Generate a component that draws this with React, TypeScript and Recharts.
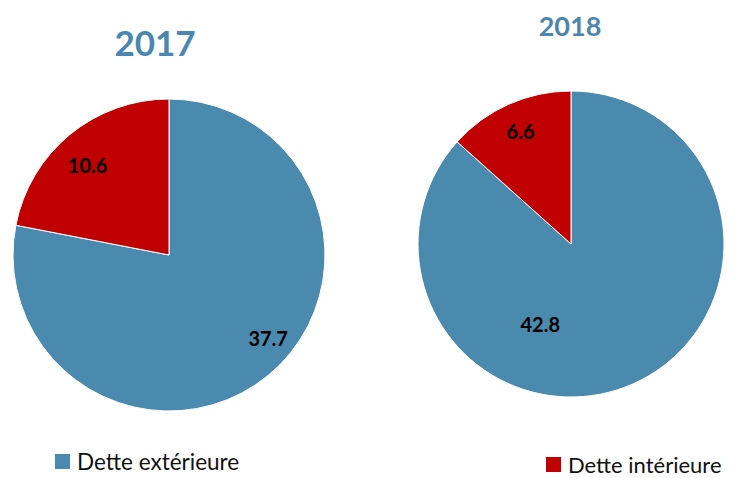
import React from "react";
import { PieChart, Pie, Cell } from "recharts";

const categories = ["Dette extérieure", "Dette intérieure"];
const years = ["2017", "2018"];
const values2017 = [37.7, 10.6];
const values2018 = [42.8, 6.6];

const COLORS = ["#4a8aae", "#c00000"];
const FONT = "Lato, 'Open Sans', sans-serif";

// label placement per pie (angle in degrees, ratio of outer radius), like Excel "best fit"
const labelSpots2017 = [
  { angle: -40, ratio: 0.83 },
  { angle: 132, ratio: 0.78 },
];
const labelSpots2018 = [
  { angle: -111, ratio: 0.56 },
  { angle: 114, ratio: 0.81 },
];

const RAD = Math.PI / 180;

const makeLabel =
  (spots: { angle: number; ratio: number }[]) =>
  (props: any) => {
    const { cx, cy, outerRadius, index, value } = props;
    const s = spots[index];
    const x = cx + outerRadius * s.ratio * Math.cos(s.angle * RAD);
    const y = cy - outerRadius * s.ratio * Math.sin(s.angle * RAD);
    return (
      <text
        x={x}
        y={y}
        textAnchor="middle"
        dominantBaseline="central"
        fill="#000"
        fontFamily={FONT}
        fontWeight={700}
        fontSize={20}
      >
        {value.toFixed(1)}
      </text>
    );
  };

export default function App() {
  const data2017 = categories.map((name, i) => ({ name, value: values2017[i] }));
  const data2018 = categories.map((name, i) => ({ name, value: values2018[i] }));

  return (
    <div
      style={{
        position: "absolute",
        left: 0,
        top: 0,
        width: 734,
        height: 478,
        background: "#fff",
        fontFamily: FONT,
        overflow: "hidden",
      }}
    >
      <PieChart width={734} height={478} margin={{ top: 0, right: 0, bottom: 0, left: 0 }}>
        <text
          x={155}
          y={42}
          textAnchor="middle"
          dominantBaseline="central"
          fill="#4a86b0"
          fontSize={35}
          fontWeight={700}
          fontFamily={FONT}
        >
          {years[0]}
        </text>
        <text
          x={570}
          y={25}
          textAnchor="middle"
          dominantBaseline="central"
          fill="#4a86b0"
          fontSize={27}
          fontWeight={700}
          fontFamily={FONT}
        >
          {years[1]}
        </text>
        <Pie
          data={data2017}
          dataKey="value"
          cx={169}
          cy={255}
          outerRadius={156}
          startAngle={90}
          endAngle={-270}
          stroke="#fff"
          strokeWidth={1}
          labelLine={false}
          label={makeLabel(labelSpots2017)}
          isAnimationActive={false}
        >
          {data2017.map((d, i) => (
            <Cell key={d.name} fill={COLORS[i]} />
          ))}
        </Pie>
        <Pie
          data={data2018}
          dataKey="value"
          cx={571}
          cy={244}
          outerRadius={153}
          startAngle={90}
          endAngle={-270}
          stroke="#fff"
          strokeWidth={1}
          labelLine={false}
          label={makeLabel(labelSpots2018)}
          isAnimationActive={false}
        >
          {data2018.map((d, i) => (
            <Cell key={d.name} fill={COLORS[i]} />
          ))}
        </Pie>
      </PieChart>
      {[
        { left: 55, top: 451.5, size: 22.5 },
        { left: 546, top: 454.5, size: 22 },
      ].map((pos, i) => (
        <div
          key={categories[i]}
          style={{
            position: "absolute",
            left: pos.left,
            top: pos.top,
            height: 20,
            display: "flex",
            alignItems: "center",
            fontSize: pos.size,
            lineHeight: "20px",
            color: "#111",
            whiteSpace: "nowrap",
          }}
        >
          <span
            style={{
              display: "inline-block",
              width: 15,
              height: 15,
              background: COLORS[i],
              marginRight: 7,
            }}
          />
          {categories[i]}
        </div>
      ))}
    </div>
  );
}
